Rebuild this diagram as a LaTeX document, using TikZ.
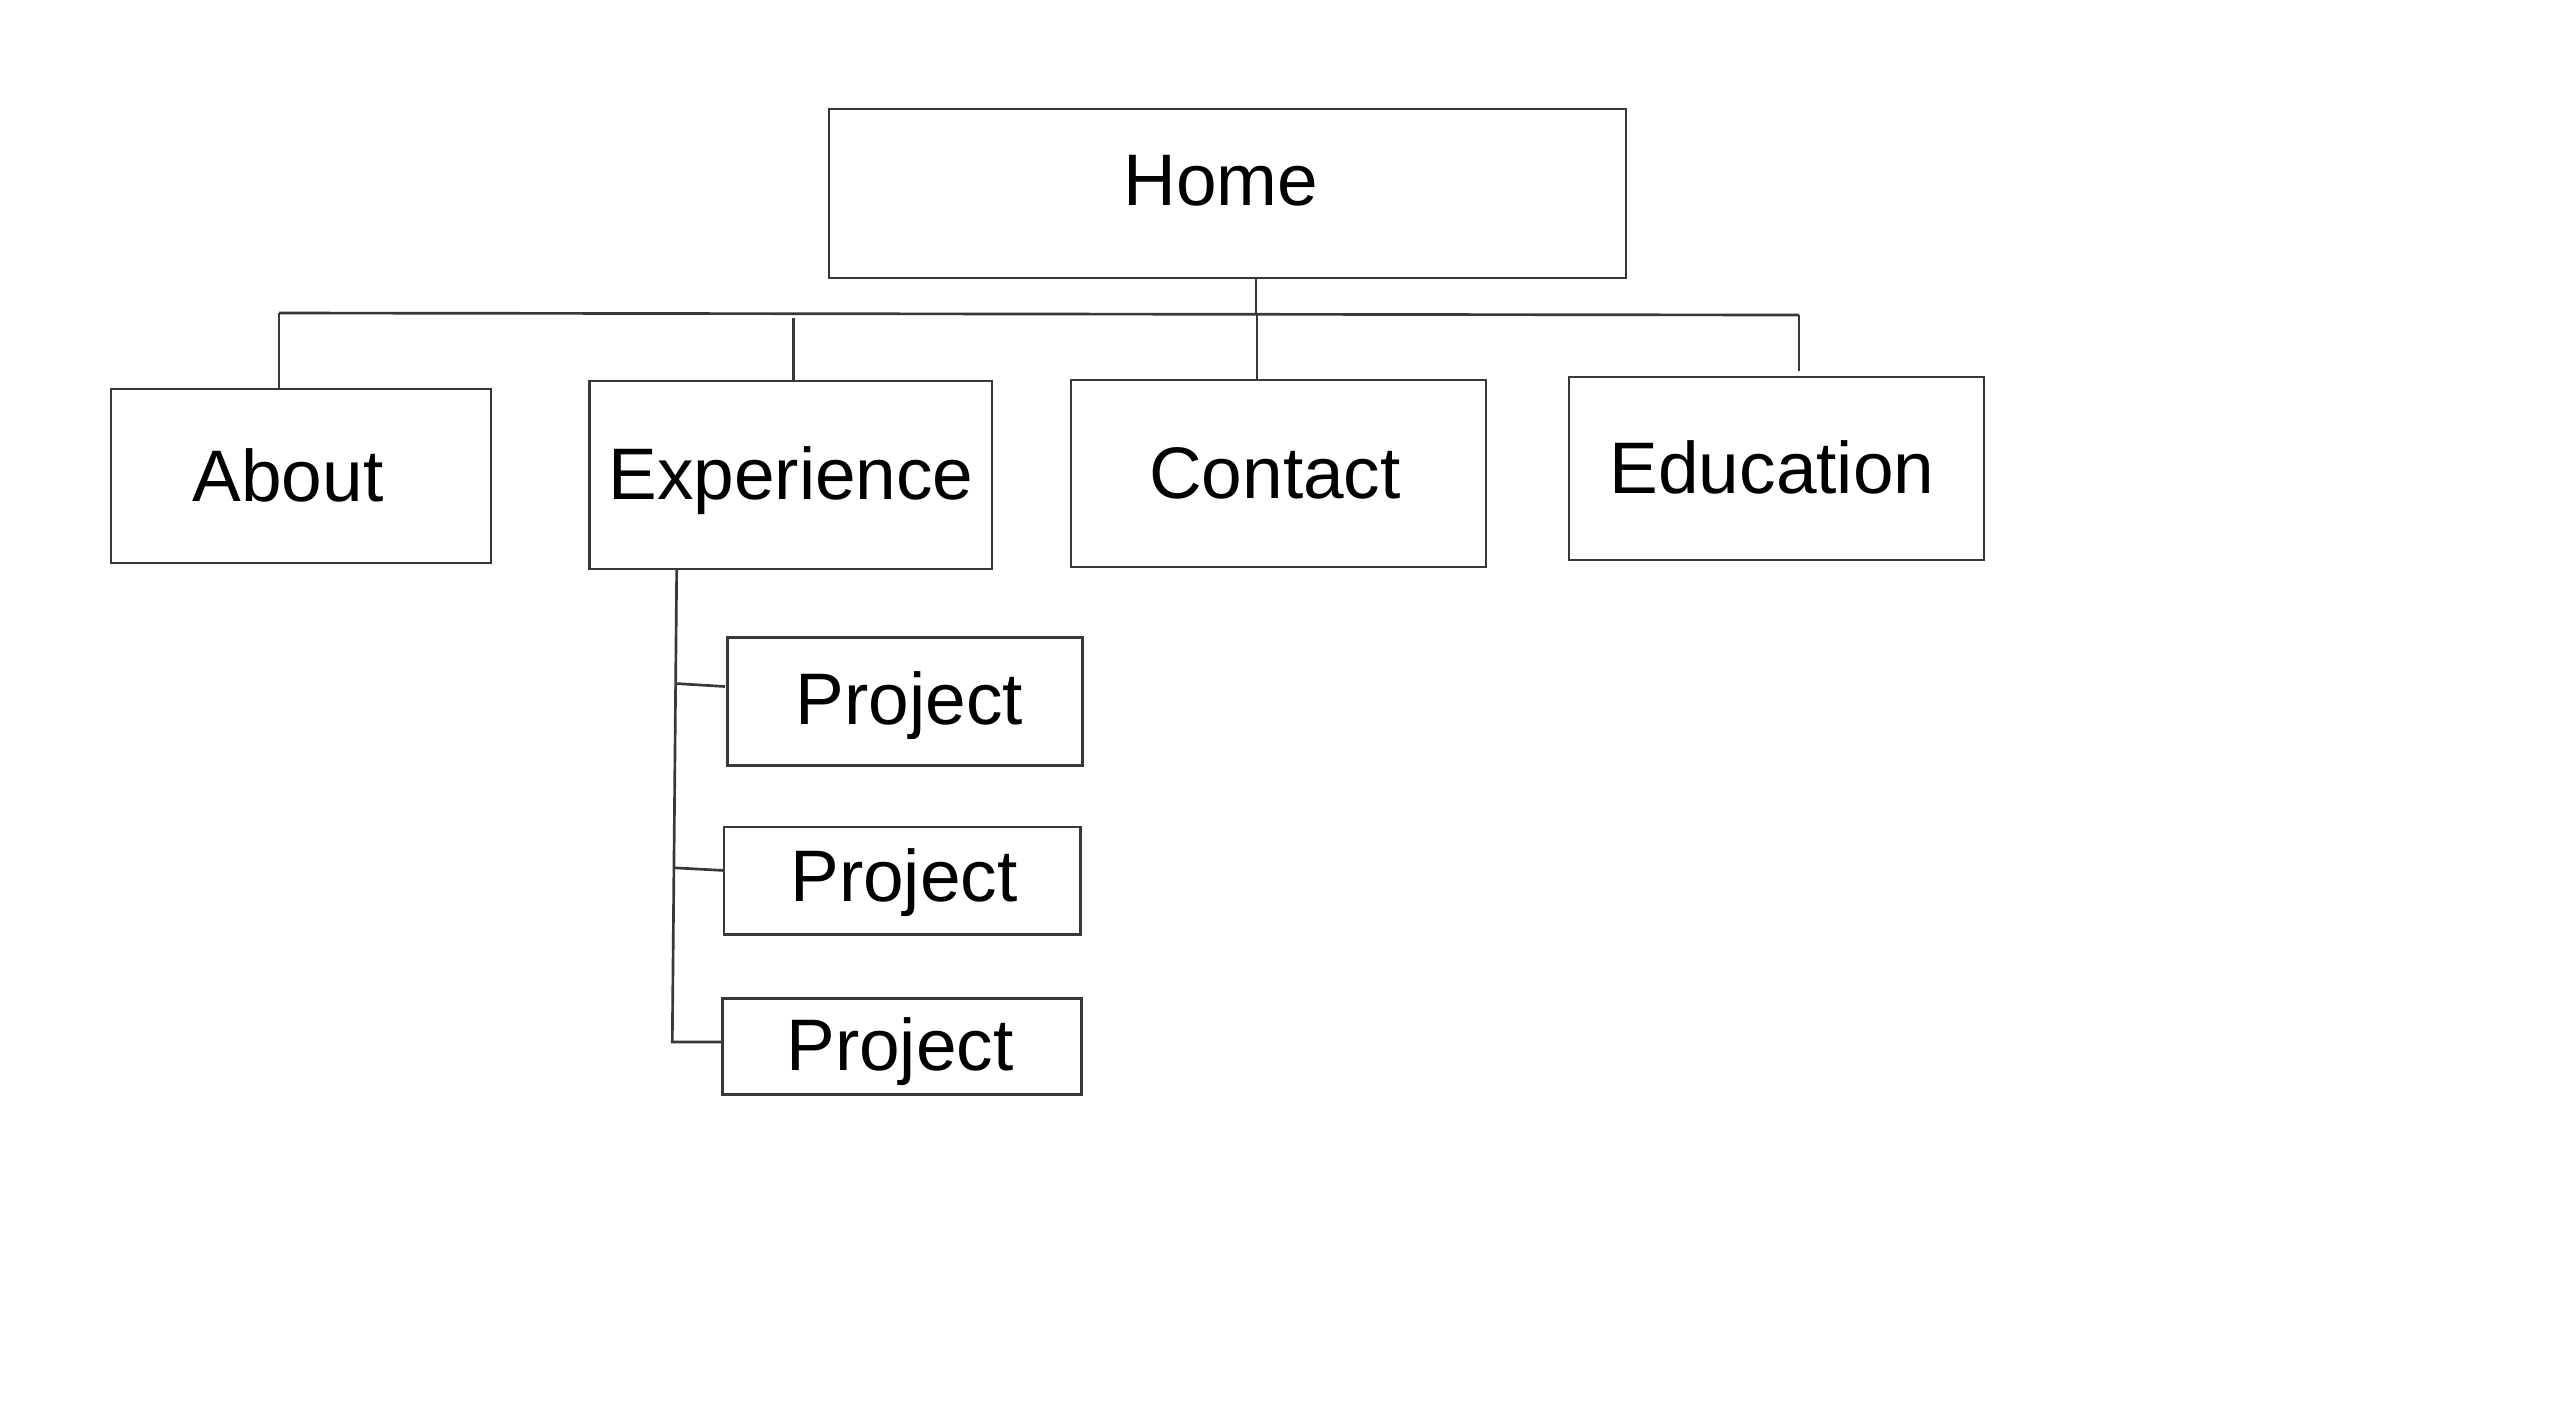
\documentclass[tikz,border=0pt]{standalone}
\usepackage{fontspec}
\setmainfont{Liberation Sans}
\begin{document}
\begin{tikzpicture}[x=0.3pt,y=-0.3pt,
  ln/.style={draw=black!78,line width=0.8pt},
  box/.style={ln,rectangle,inner sep=0pt,fill=none},
  lbl/.style={anchor=base,inner sep=0pt,font=\fontsize{21.9}{26}\selectfont}]
\useasboundingbox[fill=white] (0,0) rectangle (2560,1408);
% boxes
\node[box,minimum width=239.1pt,minimum height=50.7pt] (home) at (1227.5,193.5) {};
\node[box,minimum width=114pt,minimum height=52.2pt] (about) at (301,476) {};
\node[box,minimum width=120.7pt,minimum height=56.4pt] (exp) at (790.8,475) {};
\node[box,minimum width=124.5pt,minimum height=56.1pt] (contact) at (1278.5,473.5) {};
\node[box,minimum width=124.5pt,minimum height=54.9pt] (edu) at (1776.5,468.5) {};
\node[box,minimum width=106.5pt,minimum height=38.4pt] (p1) at (905.2,701.3) {};
\node[box,minimum width=107pt,minimum height=32.3pt] (p2) at (902.4,880.9) {};
\node[box,minimum width=107.6pt,minimum height=28.65pt] (p3) at (902,1046.5) {};
% labels
\node[lbl] (homet) at (1221,205) {Home};
\node[lbl] (aboutt) at (288,501) {About};
\node[lbl] (expt) at (791,499) {Experience};
\node[lbl] (contactt) at (1275,498) {Contact};
\node[lbl] (edut) at (1772,493) {Education};
\node[lbl] (p1t) at (909.5,724) {Project};
\node[lbl] (p2t) at (904,901) {Project};
\node[lbl] (p3t) at (900,1070) {Project};
% junctions
\coordinate (barL) at (279,313);
\coordinate (barR) at (1799,315);
\coordinate (homeJ) at (1256,314);
\coordinate (expJ) at (793.5,318);
\coordinate (contJ) at (1257,314);
\coordinate (eduEnd) at (1799,371);
\coordinate (vTop) at (676.7,568.5);
\coordinate (vBot) at (672.3,1042);
\coordinate (b1) at (675.6,683.5);
\coordinate (b1e) at (725,686.5);
\coordinate (b2) at (674.3,867.8);
\coordinate (b2e) at (723,870.4);
% tree connectors
\draw[ln] (barL) -- (barR);
\draw[ln] (homeJ |- home.south) -- (homeJ);
\draw[ln] (barL) -- (barL |- about.north);
\draw[ln] (expJ) -- (expJ |- exp.north);
\draw[ln] (contJ) -- (contJ |- contact.north);
\draw[ln] (barR) -- (eduEnd);
% experience sub-tree
\draw[ln] (vTop) -- (vBot) -- (vBot -| p3.west);
\draw[ln] (b1) -- (b1e);
\draw[ln] (b2) -- (b2e);
\end{tikzpicture}
\end{document}
